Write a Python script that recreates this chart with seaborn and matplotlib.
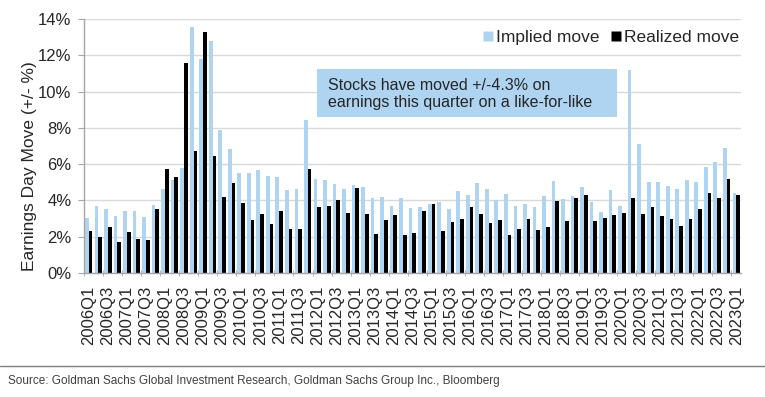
import numpy as np
import pandas as pd
import seaborn as sns
import matplotlib.pyplot as plt
from matplotlib.lines import Line2D
from matplotlib.patches import Rectangle

# Quarters 2006Q1 .. 2023Q1
quarters = [f"{y}Q{q}" for y in range(2006, 2024) for q in range(1, 5)][:69]

# Implied earnings-day move (%)
implied = [3.05, 3.68, 3.51, 3.14, 3.42, 3.42, 3.11, 3.77,
           4.61, 5.11, 5.77, 13.57, 11.78, 12.76, 7.89, 6.86,
           5.50, 5.50, 5.66, 5.37, 5.29, 4.58, 4.61, 8.46,
           5.20, 5.13, 4.89, 4.63, 4.83, 4.74, 4.14, 4.17,
           3.68, 4.12, 3.60, 3.62, 3.79, 3.92, 3.51, 4.52,
           4.32, 4.96, 4.65, 4.01, 4.38, 3.68, 3.82, 3.62,
           4.25, 5.06, 4.06, 4.25, 4.74, 3.92, 3.38, 4.60,
           3.68, 11.18, 7.11, 5.00, 5.00, 4.82, 4.61, 5.11,
           5.02, 5.86, 6.10, 6.88, 4.39]

# Realized earnings-day move (%)
realized = [2.30, 1.97, 2.52, 1.71, 2.28, 1.88, 1.84, 3.51,
            5.72, 5.31, 11.58, 6.75, 13.27, 6.45, 4.19, 4.96,
            3.84, 2.94, 3.24, 2.72, 3.40, 2.43, 2.41, 5.75,
            3.66, 3.69, 4.04, 3.31, 4.67, 3.24, 2.17, 2.90,
            3.18, 2.08, 2.21, 3.42, 3.81, 2.30, 2.83, 2.96,
            3.64, 3.24, 2.76, 2.90, 2.11, 2.41, 2.96, 2.35,
            2.54, 3.99, 2.87, 4.12, 4.30, 2.85, 3.01, 3.18,
            3.31, 4.14, 3.27, 3.62, 3.16, 2.96, 2.57, 3.00,
            3.51, 4.43, 4.12, 5.20, 4.28]

series_names = ["Implied move", "Realized move"]
colors = {"Implied move": "#AED4F1", "Realized move": "#000000"}

df = pd.DataFrame({"quarter": quarters, "Implied move": implied,
                   "Realized move": realized})
long_df = df.melt(id_vars="quarter", value_vars=series_names,
                  var_name="series", value_name="move")

sns.set_style("white")
plt.rcParams["font.family"] = ["Liberation Sans", "DejaVu Sans"]

fig = plt.figure(figsize=(7.65, 3.97), dpi=100)
ax = fig.add_axes([84 / 765, 1 - 273 / 397, 657 / 765, 254 / 397])

sns.barplot(data=long_df, x="quarter", y="move", hue="series",
            hue_order=series_names, palette=colors, order=quarters,
            width=0.78, saturation=1, edgecolor="none", ax=ax, zorder=2)

# axes styling
ax.set_ylim(0, 14)
ax.set_xlim(-0.5, len(quarters) - 0.5)
ax.set_yticks(np.arange(0, 15, 2))
ax.set_yticklabels([f"{v}%" for v in range(0, 15, 2)], fontsize=12)
ax.yaxis.grid(True, color="#D9D9D9", lw=1, zorder=0)
ax.set_axisbelow(True)
for s in ["top", "right"]:
    ax.spines[s].set_visible(False)
for s in ["left", "bottom"]:
    ax.spines[s].set_color("#A6A6A6")
    ax.spines[s].set_linewidth(1)
ax.tick_params(axis="y", length=4, color="#A6A6A6", pad=5, left=True)

ax.set_xticks(range(0, len(quarters), 2))
ax.set_xticklabels(quarters[::2], rotation=90, fontsize=12)
ax.set_xticks(np.arange(-0.5, len(quarters), 2), minor=True)
ax.tick_params(axis="x", which="major", length=0, pad=9)
ax.tick_params(axis="x", which="minor", length=4, color="#A6A6A6",
               direction="inout", bottom=True)
ax.set_xlabel("")
ax.set_ylabel("Earnings Day Move (+/- %)", fontsize=12.5)
ax.yaxis.set_label_coords(-0.072, 0.42)

# legend
handles = [Line2D([], [], marker="s", ls="none", markersize=7.5,
                  markerfacecolor=colors[n], markeredgecolor="none")
           for n in series_names]
ax.legend(handles, series_names, loc="upper right", ncol=2, frameon=False,
          bbox_to_anchor=(1.008, 0.985), fontsize=12.5, handlelength=0.6,
          handletextpad=0.2, columnspacing=0.6, borderaxespad=0)

# annotation box
fig.add_artist(Rectangle((317 / 765, 1 - 117 / 397), 300 / 765, 48 / 397,
                         transform=fig.transFigure, facecolor="#AED4F1",
                         edgecolor="none", zorder=5))
fig.text(328 / 765, 1 - 94 / 397,
         "Stocks have moved +/-4.3% on\nearnings this quarter on a like-for-like",
         fontsize=11.5, va="center", ha="left", linespacing=1.1, zorder=6)

# source footer
fig.add_artist(Line2D([0, 1], [1 - 366 / 397] * 2, transform=fig.transFigure,
                      color="#7F7F7F", lw=1))
fig.text(8 / 765, 1 - 381 / 397,
         "Source: Goldman Sachs Global Investment Research, Goldman Sachs Group Inc., Bloomberg",
         fontsize=8.5, color="#404040", va="center")

fig.savefig("out.png", dpi=100)
